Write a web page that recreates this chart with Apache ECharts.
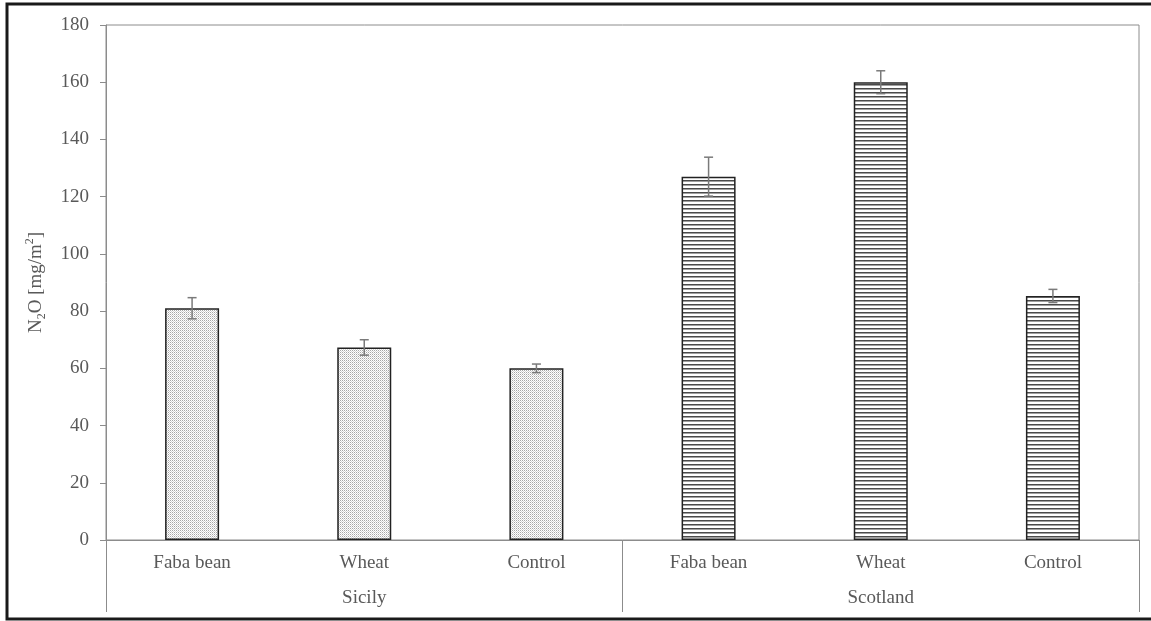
<!DOCTYPE html>
<html>
<head>
<meta charset="utf-8">
<style>
  html, body { margin: 0; padding: 0; background: #fff; }
  #chart { width: 1151px; height: 621px; }
</style>
<script src="https://cdn.jsdelivr.net/npm/echarts@6/dist/echarts.min.js"></script>
</head>
<body>
<div id="chart"></div>
<script>
// Treatments within each site, and the two sites
const crops = ['Faba bean', 'Wheat', 'Control', 'Faba bean', 'Wheat', 'Control'];
const sites = ['Sicily', 'Scotland'];
const siteOfBar = [0, 0, 0, 1, 1, 1];
// Mean N2O emissions [mg/m2] and their standard errors
const meanN2O = [81, 67.3, 60, 127, 160, 85.3];
const errN2O = [3.7, 2.7, 1.5, 6.8, 4, 2.3];
const yTicks = { min: 0, max: 180, interval: 20 };

const font = 'Liberation Serif, Times New Roman, serif';
const textGrey = '#595959';
const axisGrey = '#8c8c8c';
const fs = 19;

// Fill patterns: fine dots for Sicily, horizontal stripes for Scotland
function dotPattern() {
  const c = document.createElement('canvas');
  c.width = 2; c.height = 2;
  const g = c.getContext('2d');
  g.fillStyle = '#ffffff'; g.fillRect(0, 0, 2, 2);
  g.fillStyle = '#a6a6a6'; g.fillRect(0, 0, 1, 1);
  g.fillStyle = '#d4d4d4'; g.fillRect(1, 1, 1, 1);
  return c;
}
function stripePattern() {
  const c = document.createElement('canvas');
  c.width = 4; c.height = 4;
  const g = c.getContext('2d');
  g.fillStyle = '#ffffff'; g.fillRect(0, 0, 4, 4);
  g.fillStyle = '#4a4a4a'; g.fillRect(0, 0, 4, 1);
  g.fillStyle = '#a0a0a0'; g.fillRect(0, 1, 4, 1);
  return c;
}
const fills = [
  { image: dotPattern(), repeat: 'repeat' },
  { image: stripePattern(), repeat: 'repeat' }
];

const barData = meanN2O.map((v, i) => ({
  value: v,
  itemStyle: { color: fills[siteOfBar[i]] }
}));
const errData = meanN2O.map((v, i) => [i, v - errN2O[i], v + errN2O[i]]);

const chart = echarts.init(document.getElementById('chart'), null, { renderer: 'canvas' });
chart.setOption({
  animation: false,
  backgroundColor: '#ffffff',
  grid: {
    left: 106, right: 12, top: 25, bottom: 81,
    show: true, borderColor: axisGrey, borderWidth: 1
  },
  xAxis: [
    {
      type: 'category',
      data: crops,
      position: 'bottom',
      axisLine: { show: true, lineStyle: { color: axisGrey, width: 1 } },
      axisTick: { show: false },
      axisLabel: { color: textGrey, fontFamily: font, fontSize: fs, margin: 14 }
    },
    {
      type: 'category',
      data: sites,
      position: 'bottom',
      offset: 0,
      axisLine: { show: false },
      axisTick: { show: true, length: 72, lineStyle: { color: axisGrey, width: 1 } },
      axisLabel: { color: textGrey, fontFamily: font, fontSize: fs, margin: 49 }
    }
  ],
  yAxis: {
    type: 'value',
    min: yTicks.min, max: yTicks.max, interval: yTicks.interval,
    name: '{n|N}{s|2}{n|O [mg/m}{p|2}{n|]}',
    nameLocation: 'middle',
    nameRotate: 90,
    nameGap: 58,
    nameTextStyle: {
      color: textGrey, fontFamily: font,
      rich: {
        n: { fontSize: fs, color: textGrey, fontFamily: font, lineHeight: 24, verticalAlign: 'middle' },
        s: { fontSize: 12, color: textGrey, fontFamily: font, lineHeight: 24, verticalAlign: 'bottom' },
        p: { fontSize: 12, color: textGrey, fontFamily: font, lineHeight: 24, verticalAlign: 'top' }
      }
    },
    axisLine: { show: true, lineStyle: { color: axisGrey, width: 1 } },
    axisTick: { show: true, inside: false, length: 6, lineStyle: { color: axisGrey } },
    splitLine: { show: false },
    axisLabel: { color: textGrey, fontFamily: font, fontSize: fs, margin: 17 }
  },
  series: [
    {
      type: 'bar',
      xAxisIndex: 0,
      data: barData,
      barWidth: 54,
      itemStyle: { borderColor: '#222', borderWidth: 1.5 }
    },
    {
      type: 'custom',
      xAxisIndex: 0,
      data: errData,
      z: 5,
      renderItem: function (params, api) {
        const x = api.coord([api.value(0), 0])[0];
        const lo = api.coord([api.value(0), api.value(1)])[1];
        const hi = api.coord([api.value(0), api.value(2)])[1];
        const cap = 4.5;
        const style = { stroke: '#7a7a7a', lineWidth: 1.5, fill: null };
        return {
          type: 'group',
          children: [
            { type: 'line', shape: { x1: x, y1: lo, x2: x, y2: hi }, style: style },
            { type: 'line', shape: { x1: x - cap, y1: hi, x2: x + cap, y2: hi }, style: style },
            { type: 'line', shape: { x1: x - cap, y1: lo, x2: x + cap, y2: lo }, style: style }
          ]
        };
      }
    }
  ],
  graphic: [
    {
      type: 'rect',
      silent: true,
      shape: { x: 7, y: 4, width: 1160, height: 615 },
      style: { fill: null, stroke: '#1a1a1a', lineWidth: 3 }
    }
  ]
});
</script>
</body>
</html>
